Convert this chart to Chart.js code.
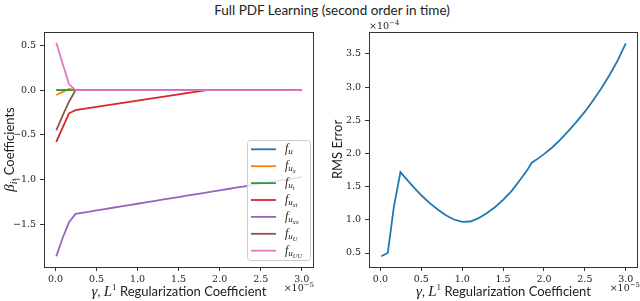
<!DOCTYPE html>
<html>
<head>
<meta charset="utf-8">
<script src="https://cdn.jsdelivr.net/npm/chart.js@4.4.0/dist/chart.umd.min.js"></script>
<style>
html, body { margin: 0; padding: 0; background: #fff; }
#wrap { position: relative; width: 640px; height: 301px; overflow: hidden; }
canvas { position: absolute; top: 0; }
#c1 { left: 0; }
#c2 { left: 320px; }
#title { position: absolute; left: 0; top: 2px; width: 664px; text-align: center;
         font: 13.5px Lato, sans-serif; line-height: 16px; color: #222; }
</style>
</head>
<body>
<div id="wrap">
  <div id="title">Full PDF Learning (second order in time)</div>
  <canvas id="c1" width="320" height="301"></canvas>
  <canvas id="c2" width="320" height="301"></canvas>
</div>
<script>
// ====== Data (gamma in units of 1e-5, RMS in units of 1e-4) ======
const gamma = [0.01, 0.09, 0.165, 0.245, 0.3, 0.4, 0.5, 0.6, 0.7, 0.8, 0.9, 1.0, 1.1, 1.2, 1.3, 1.4, 1.5,
               1.6, 1.7, 1.8, 1.85, 1.9, 2.0, 2.1, 2.2, 2.3, 2.4, 2.5, 2.6, 2.7, 2.8, 2.9, 3.0];

const fU    = [0, 0, 0, 0, 0, 0, 0, 0, 0, 0, 0, 0, 0, 0, 0, 0, 0, 0, 0, 0, 0, 0, 0, 0, 0, 0, 0, 0, 0, 0, 0, 0, 0];
const fUx   = [-0.055, -0.02, 0.012, 0, 0, 0, 0, 0, 0, 0, 0, 0, 0, 0, 0, 0, 0, 0, 0, 0, 0, 0, 0, 0, 0, 0, 0, 0, 0, 0, 0, 0, 0];
const fUt   = [0, 0, 0, 0, 0, 0, 0, 0, 0, 0, 0, 0, 0, 0, 0, 0, 0, 0, 0, 0, 0, 0, 0, 0, 0, 0, 0, 0, 0, 0, 0, 0, 0];
const fUxt  = [-0.58, -0.415, -0.26, -0.225, -0.217, -0.203, -0.189, -0.175, -0.161, -0.147, -0.133, -0.119,
               -0.105, -0.091, -0.077, -0.063, -0.049, -0.035, -0.021, -0.007, 0, 0, 0, 0, 0, 0, 0, 0, 0, 0, 0, 0, 0];
const fUxx  = [-1.86, -1.65, -1.48, -1.385, -1.377, -1.362, -1.347, -1.332, -1.317, -1.302, -1.287, -1.272,
               -1.257, -1.242, -1.227, -1.212, -1.197, -1.182, -1.167, -1.152, -1.145, -1.137, -1.122, -1.107,
               -1.092, -1.077, -1.062, -1.047, -1.032, -1.017, -1.002, -0.987, -0.972];
const fUU   = [-0.45, -0.28, -0.13, 0, 0, 0, 0, 0, 0, 0, 0, 0, 0, 0, 0, 0, 0, 0, 0, 0, 0, 0, 0, 0, 0, 0, 0, 0, 0, 0, 0, 0, 0];
const fUUU  = [0.53, 0.29, 0.067, 0, 0, 0, 0, 0, 0, 0, 0, 0, 0, 0, 0, 0, 0, 0, 0, 0, 0, 0, 0, 0, 0, 0, 0, 0, 0, 0, 0, 0, 0];

const rms   = [0.45, 0.50, 1.20, 1.72, 1.64, 1.50, 1.37, 1.255, 1.155, 1.07, 1.005, 0.97, 0.975, 1.025, 1.10, 1.19,
               1.30, 1.43, 1.59, 1.76, 1.86, 1.90, 1.99, 2.09, 2.21, 2.34, 2.48, 2.63, 2.80, 2.98, 3.18, 3.40, 3.66];

const series     = [fU, fUx, fUt, fUxt, fUxx, fUU, fUUU];
const legendSubs = ['', 'x', 't', 'xt', 'xx', 'U', 'UU'];
const colors     = ['#1f77b4', '#ff7f0e', '#2ca02c', '#d62728', '#9467bd', '#8c564b', '#e377c2'];

const xTicks      = [0.0, 0.5, 1.0, 1.5, 2.0, 2.5, 3.0];
const leftYTicks  = [-1.5, -1.0, -0.5, 0.0, 0.5];
const rightYTicks = [0.5, 1.0, 1.5, 2.0, 2.5, 3.0, 3.5];
const xRange      = [-0.1395, 3.1495];
const leftYRange  = [-1.98, 0.65];
const rightYRange = [0.289, 3.831];

// ====== Fonts / helpers ======
const SANS = 'Lato, sans-serif';
const SERIF = '"DejaVu Serif", serif';
const MATH = '"Liberation Serif", serif';
const INK = '#222';

const fmt = v => (v < 0 ? '\u2212' : '') + Math.abs(v).toFixed(1);

// draw a run of differently-styled text pieces: [text, font, dy]
function drawRuns(ctx, runs, x, y, align) {
    let w = 0;
    runs.forEach(r => { ctx.font = r[1]; w += ctx.measureText(r[0]).width; });
    let cx = align === 'center' ? x - w / 2 : align === 'right' ? x - w : x;
    ctx.textAlign = 'left';
    ctx.textBaseline = 'alphabetic';
    runs.forEach(r => {
        ctx.font = r[1];
        ctx.fillText(r[0], cx, y + (r[2] || 0));
        cx += ctx.measureText(r[0]).width;
    });
}

function xLabel(ctx, cx) {
    drawRuns(ctx, [
        ['\u03b3', 'italic 15px ' + MATH],
        [', ', '13px ' + SANS],
        ['L', 'italic 15px ' + MATH],
        ['1', '9px ' + MATH, -6],
        [' Regularization Coefficient', '13px ' + SANS]
    ], cx, 296, 'center');
}

const frame = {
    id: 'frame',
    afterDraw(chart) {
        const { ctx, chartArea: a } = chart;
        ctx.save();
        ctx.strokeStyle = '#333';
        ctx.lineWidth = 1;
        ctx.strokeRect(Math.round(a.left) + 0.5, Math.round(a.top) + 0.5,
                       Math.round(a.right - a.left) - 1, Math.round(a.bottom - a.top));
        ctx.restore();
    }
};

function opts(yRange, yTicks, yWidth, padRight) {
    const grid = { drawOnChartArea: false, tickLength: 4, color: '#333' };
    const ticks = { font: { family: SERIF, size: 9.5 }, color: INK, autoSkip: false, maxRotation: 0, callback: fmt };
    return {
        responsive: false,
        animation: false,
        layout: { padding: { top: 32, right: padRight, left: 0, bottom: 0 } },
        plugins: { legend: { display: false }, tooltip: { enabled: false } },
        elements: { point: { radius: 0 }, line: { borderWidth: 1.8, tension: 0 } },
        scales: {
            x: {
                type: 'linear', min: xRange[0], max: xRange[1],
                afterFit: s => { s.height = 34; },
                afterBuildTicks: s => { s.ticks = xTicks.map(v => ({ value: v })); },
                grid, border: { display: false }, ticks: { ...ticks, padding: 3 }
            },
            y: {
                type: 'linear', min: yRange[0], max: yRange[1],
                afterFit: s => { s.width = yWidth; },
                afterBuildTicks: s => { s.ticks = yTicks.map(v => ({ value: v })); },
                grid, border: { display: false }, ticks: { ...ticks, padding: 4 }
            }
        }
    };
}

// ====== Left: coefficients ======
const coefDecor = {
    id: 'coefDecor',
    afterDraw(chart) {
        const ctx = chart.ctx;
        ctx.save();
        ctx.fillStyle = INK;
        xLabel(ctx, 179);
        drawRuns(ctx, [['\u00d710', '9.5px ' + SERIF], ['\u22125', '7px ' + SERIF, -4]], 314, 291, 'right');

        ctx.save();
        ctx.translate(14, 149.5);
        ctx.rotate(-Math.PI / 2);
        drawRuns(ctx, [
            ['\u03b2', 'italic 15px ' + MATH],
            ['i', 'italic 10px ' + MATH, 3],
            [', Coefficients', '13px ' + SANS]
        ], 0, 0, 'center');
        ctx.restore();

        // legend
        const x0 = 247, y0 = 140, w = 63, h = 120;
        ctx.fillStyle = 'rgba(255,255,255,0.8)';
        ctx.strokeStyle = '#cccccc';
        ctx.lineWidth = 1;
        ctx.beginPath();
        ctx.roundRect(x0 + 0.5, y0 + 0.5, w, h, 3);
        ctx.fill();
        ctx.stroke();
        chart.data.datasets.forEach((ds, i) => {
            const y = 149.3 + i * 16.9;
            ctx.strokeStyle = ds.borderColor;
            ctx.lineWidth = 1.8;
            ctx.beginPath();
            ctx.moveTo(251, y);
            ctx.lineTo(276, y);
            ctx.stroke();
            ctx.fillStyle = INK;
            drawRuns(ctx, [
                ['f', 'italic 12px ' + MATH],
                ['u', 'italic 9px ' + MATH, 2],
                [legendSubs[i], 'italic 6.5px ' + MATH, 4]
            ], 285, y + 3);
        });
        ctx.restore();
    }
};

new Chart(document.getElementById('c1'), {
    type: 'line',
    data: {
        datasets: series.map((s, i) => ({
            data: gamma.map((g, j) => ({ x: g, y: s[j] })),
            borderColor: colors[i],
            backgroundColor: colors[i],
            fill: false,
            order: -i
        }))
    },
    options: opts(leftYRange, leftYTicks, 44, 6),
    plugins: [frame, coefDecor]
});

// ====== Right: RMS error ======
const rmsDecor = {
    id: 'rmsDecor',
    afterDraw(chart) {
        const ctx = chart.ctx;
        ctx.save();
        ctx.fillStyle = INK;
        xLabel(ctx, 183.5);
        drawRuns(ctx, [['\u00d710', '9.5px ' + SERIF], ['\u22125', '7px ' + SERIF, -4]], 320, 291, 'right');
        drawRuns(ctx, [['\u00d710', '9.5px ' + SERIF], ['\u22124', '7px ' + SERIF, -4]], 49, 29, 'left');

        ctx.translate(22, 149.5);
        ctx.rotate(-Math.PI / 2);
        drawRuns(ctx, [['RMS Error', '13px ' + SANS]], 0, 0, 'center');
        ctx.restore();
    }
};

new Chart(document.getElementById('c2'), {
    type: 'line',
    data: {
        datasets: [{
            data: gamma.map((g, j) => ({ x: g, y: rms[j] })),
            borderColor: colors[0],
            backgroundColor: colors[0],
            fill: false
        }]
    },
    options: opts(rightYRange, rightYTicks, 49, 2),
    plugins: [frame, rmsDecor]
});
</script>
</body>
</html>
